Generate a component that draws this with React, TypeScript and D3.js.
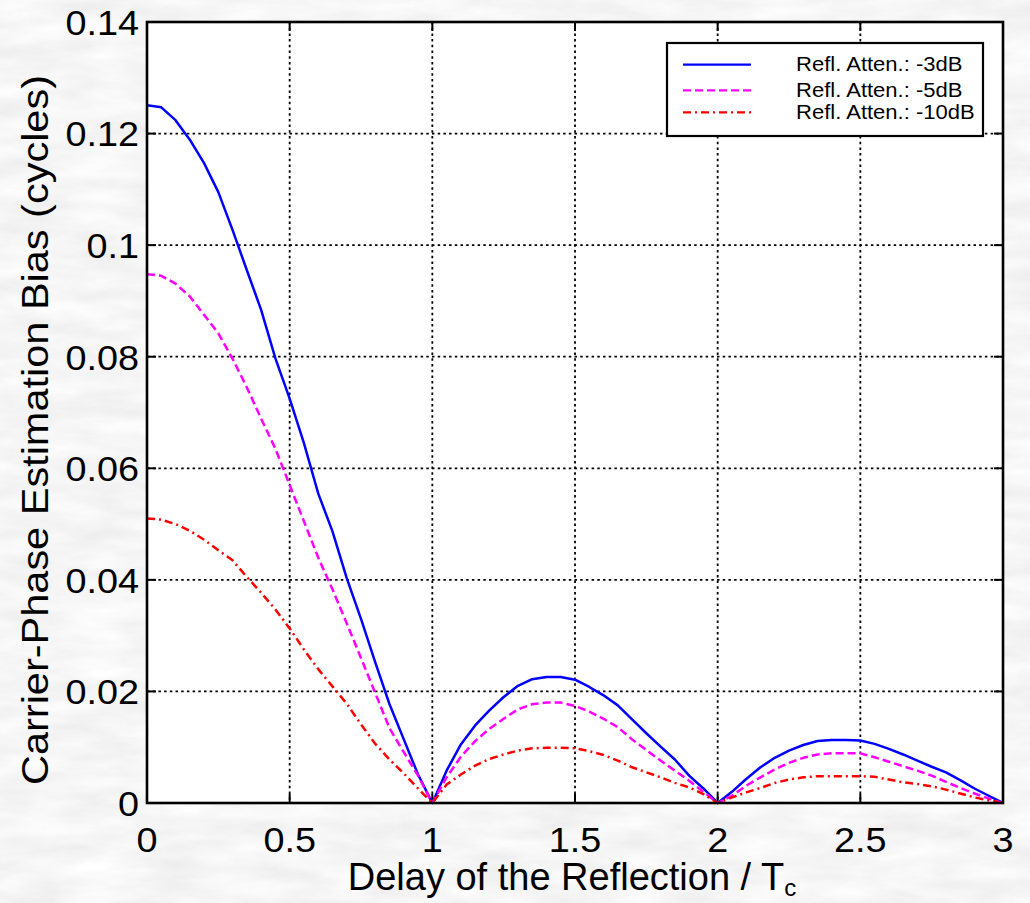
import React from 'react';
import * as d3 from 'd3';

// ---- data ----
const delays = [
  0, 0.05, 0.1, 0.15, 0.2, 0.25, 0.3, 0.35, 0.4, 0.45, 0.5, 0.55, 0.6, 0.65, 0.7, 0.75, 0.8, 0.85, 0.9, 0.95, 1.0,
  1.05, 1.1, 1.15, 1.2, 1.25, 1.3, 1.35, 1.4, 1.45, 1.5, 1.55, 1.6, 1.65, 1.7, 1.75, 1.8, 1.85, 1.9, 1.95, 2.0,
  2.05, 2.1, 2.15, 2.2, 2.25, 2.3, 2.35, 2.4, 2.45, 2.5, 2.55, 2.6, 2.65, 2.7, 2.75, 2.8, 2.85, 2.9, 2.95, 3.0,
];

const bias3dB = [
  0.1251, 0.1247, 0.1224, 0.1189, 0.1147, 0.1095, 0.1027, 0.0955, 0.0884, 0.0797, 0.0725, 0.0645, 0.0555, 0.0487, 0.0403, 0.0330, 0.0252, 0.0177, 0.0114, 0.0051, 0,
  0.0058, 0.0105, 0.0139, 0.0166, 0.0190, 0.0210, 0.0222, 0.0226, 0.0226, 0.0221, 0.0208, 0.0193, 0.0175, 0.0150, 0.0125, 0.0101, 0.0078, 0.0049, 0.0026, 0,
  0.0020, 0.0043, 0.0064, 0.0081, 0.0094, 0.0104, 0.0111, 0.0113, 0.0113, 0.0112, 0.0106, 0.0097, 0.0087, 0.0076, 0.0065, 0.0055, 0.0041, 0.0026, 0.0013, 0,
];

const bias5dB = [
  0.0948, 0.0945, 0.0931, 0.0908, 0.0875, 0.0842, 0.0796, 0.0745, 0.0689, 0.0635, 0.0570, 0.0505, 0.0440, 0.0383, 0.0322, 0.0260, 0.0197, 0.0134, 0.0091, 0.0049, 0,
  0.0046, 0.0083, 0.0111, 0.0133, 0.0151, 0.0168, 0.0177, 0.0180, 0.0180, 0.0174, 0.0164, 0.0151, 0.0136, 0.0114, 0.0095, 0.0076, 0.0058, 0.0040, 0.0020, 0,
  0.0013, 0.0031, 0.0046, 0.0060, 0.0072, 0.0081, 0.0087, 0.0089, 0.0089, 0.0089, 0.0082, 0.0074, 0.0066, 0.0058, 0.0049, 0.0038, 0.0027, 0.0017, 0.0008, 0,
];

const bias10dB = [
  0.0510, 0.0508, 0.0500, 0.0488, 0.0472, 0.0453, 0.0435, 0.0405, 0.0377, 0.0347, 0.0313, 0.0275, 0.0240, 0.0209, 0.0178, 0.0141, 0.0106, 0.0078, 0.0053, 0.0026, 0,
  0.0033, 0.0051, 0.0067, 0.0079, 0.0087, 0.0094, 0.0098, 0.0099, 0.0099, 0.0098, 0.0093, 0.0086, 0.0076, 0.0064, 0.0055, 0.0046, 0.0036, 0.0028, 0.0016, 0,
  0.0010, 0.0019, 0.0027, 0.0036, 0.0042, 0.0046, 0.0048, 0.0048, 0.0048, 0.0048, 0.0047, 0.0042, 0.0037, 0.0034, 0.0030, 0.0024, 0.0017, 0.0010, 0.0005, 0,
];

const seriesNames = ['Refl. Atten.: -3dB', 'Refl. Atten.: -5dB', 'Refl. Atten.: -10dB'];
const xTicks = [0, 0.5, 1, 1.5, 2, 2.5, 3];
const xTickLabels = ['0', '0.5', '1', '1.5', '2', '2.5', '3'];
const yTicks = [0, 0.02, 0.04, 0.06, 0.08, 0.1, 0.12, 0.14];
const yTickLabels = ['0', '0.02', '0.04', '0.06', '0.08', '0.1', '0.12', '0.14'];
const xTitle = 'Delay of the Reflection / T';
const xTitleSub = 'c';
const yTitle = 'Carrier-Phase Estimation Bias (cycles)';

// ---- styling ----
const W = 1030;
const H = 903;
const L = 147, R = 1003, T = 22, B = 803;
const FONT = '"Liberation Sans", Arial, Helvetica, sans-serif';
const styles = [
  { color: '#0000ff', dash: undefined as string | undefined },
  { color: '#ff00ff', dash: '8,4' },
  { color: '#ff0000', dash: '8,4,2,4' },
];

export default function App() {
  const x = d3.scaleLinear().domain([0, 3]).range([L, R]);
  const y = d3.scaleLinear().domain([0, 0.14]).range([B, T]);
  const series = [bias3dB, bias5dB, bias10dB];
  const line = d3
    .line<[number, number]>()
    .x((d) => x(d[0]))
    .y((d) => y(d[1]));

  const tickLen = 9;
  const legX = 667, legY = 43, legW = 316, legH = 93;
  const rowY = [64.7, 90.3, 112.3];

  return (
    <svg
      width={W}
      height={H}
      style={{ position: 'absolute', left: 0, top: 0, display: 'block' }}
      fontFamily={FONT}
    >
      <defs>
        <filter id="bgTex" x="0" y="0" width={W} height={H} filterUnits="userSpaceOnUse">
          <feTurbulence type="fractalNoise" baseFrequency="0.015 0.05" numOctaves="4" seed="11" result="n" />
          <feColorMatrix
            in="n"
            type="matrix"
            values="0.2 0 0 0 0.82  0.2 0 0 0 0.82  0.2 0 0 0 0.82  0 0 0 0 1"
          />
        </filter>
        <clipPath id="plotClip">
          <rect x={L} y={T - 2} width={R - L} height={B - T + 4} />
        </clipPath>
      </defs>
      <rect x={0} y={0} width={W} height={H} fill="#e9e9e9" />
      <rect x={0} y={0} width={W} height={H} filter="url(#bgTex)" />

      {/* plot area */}
      <rect x={L} y={T} width={R - L} height={B - T} fill="#ffffff" />

      {/* grid */}
      <g stroke="#000" strokeWidth={1.8} strokeDasharray="2.5,3.2">
        {xTicks.slice(1, -1).map((t) => (
          <line key={'gx' + t} x1={x(t)} x2={x(t)} y1={T} y2={B} />
        ))}
        {yTicks.slice(1, -1).map((t) => (
          <line key={'gy' + t} x1={L} x2={R} y1={y(t)} y2={y(t)} />
        ))}
      </g>

      {/* ticks */}
      <g stroke="#000" strokeWidth={2}>
        {xTicks.map((t) => (
          <g key={'tx' + t}>
            <line x1={x(t)} x2={x(t)} y1={B} y2={B - tickLen} />
            <line x1={x(t)} x2={x(t)} y1={T} y2={T + tickLen} />
          </g>
        ))}
        {yTicks.map((t) => (
          <g key={'ty' + t}>
            <line x1={L} x2={L + tickLen} y1={y(t)} y2={y(t)} />
            <line x1={R} x2={R - tickLen} y1={y(t)} y2={y(t)} />
          </g>
        ))}
      </g>

      {/* curves */}
      <g clipPath="url(#plotClip)" fill="none">
        {series.map((vals, i) => (
          <path
            key={'s' + i}
            d={line(delays.map((d, k) => [d, vals[k]] as [number, number])) || ''}
            stroke={styles[i].color}
            strokeWidth={2.5}
            strokeDasharray={styles[i].dash}
            strokeLinejoin="round"
          />
        ))}
      </g>

      {/* axes box */}
      <rect x={L} y={T} width={R - L} height={B - T} fill="none" stroke="#000" strokeWidth={2.6} />

      {/* tick labels */}
      <g fontSize={35} fill="#000">
        {xTicks.map((t, i) => (
          <text
            key={'lx' + t}
            transform={`translate(${x(t)},${B + 49}) scale(1.08,1)`}
            textAnchor="middle"
          >
            {xTickLabels[i]}
          </text>
        ))}
        {yTicks.map((t, i) => (
          <text
            key={'ly' + t}
            transform={`translate(${139},${y(t) + 12.8}) scale(1.08,1)`}
            textAnchor="end"
          >
            {yTickLabels[i]}
          </text>
        ))}
      </g>

      {/* axis titles */}
      <text x={572} y={890} fontSize={38} textAnchor="middle" fill="#000">
        {xTitle}
        <tspan fontSize={24} dy={6}>
          {xTitleSub}
        </tspan>
      </text>
      <text
        transform={`translate(48,430) rotate(-90)`}
        fontSize={36}
        textAnchor="middle"
        fill="#000"
        textLength={710}
        lengthAdjust="spacingAndGlyphs"
      >
        {yTitle}
      </text>

      {/* legend */}
      <rect x={legX} y={legY} width={legW} height={legH} fill="#fff" stroke="#000" strokeWidth={2.2} />
      {seriesNames.map((name, i) => (
        <g key={'lg' + i}>
          <line
            x1={683}
            x2={751}
            y1={rowY[i]}
            y2={rowY[i]}
            stroke={styles[i].color}
            strokeWidth={2.2}
            strokeDasharray={styles[i].dash}
          />
          <text
            transform={`translate(796,${rowY[i] + 6.2}) scale(1.13,1)`}
            fontSize={19.5}
            fill="#000"
          >
            {name}
          </text>
        </g>
      ))}
    </svg>
  );
}
